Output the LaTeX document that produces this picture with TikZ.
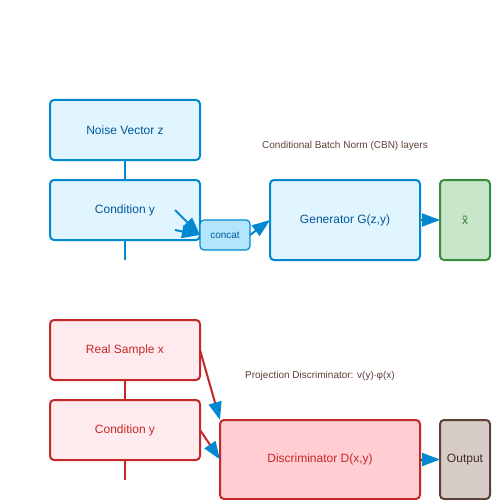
\documentclass[tikz,border=0pt]{standalone}
\usepackage{fontspec}
\setmainfont{Liberation Sans}
\usetikzlibrary{arrows.meta}
\definecolor{bstroke}{HTML}{0288D1}
\definecolor{bfill}{HTML}{E1F5FE}
\definecolor{cfill}{HTML}{B3E5FC}
\definecolor{btext}{HTML}{01579B}
\definecolor{rstroke}{HTML}{C62828}
\definecolor{rfill}{HTML}{FFEBEE}
\definecolor{dfill}{HTML}{FFCDD2}
\definecolor{gstroke}{HTML}{388E3C}
\definecolor{gfill}{HTML}{C8E6C9}
\definecolor{gtext}{HTML}{2E7D32}
\definecolor{brn}{HTML}{5D4037}
\definecolor{ofill}{HTML}{D7CCC8}
\tikzset{
  box/.style={draw, line width=2pt, rounded corners=4pt, inner sep=0pt, outer sep=0pt, anchor=north west, font=\fontsize{12}{14}\selectfont},
  gbox/.style={box, draw=bstroke, fill=bfill, text=btext},
  rbox/.style={box, draw=rstroke, fill=rfill, text=rstroke},
  link/.style={line width=2pt},
  arr/.style={line width=2pt, -{Triangle[length=18pt,width=13pt,color=bstroke,fill=bstroke]}},
  note/.style={text=brn, font=\fontsize{10}{12}\selectfont}
}
\begin{document}
\begin{tikzpicture}[x=1pt,y=-1pt]
\useasboundingbox (0,0) rectangle (500,500);
% generator part
\node[gbox, minimum width=150pt, minimum height=60pt] (noise) at (50,100) {Noise Vector z};
\node[gbox, minimum width=150pt, minimum height=60pt] (cond1) at (50,180) {Condition y};
\node[box, draw=bstroke, fill=cfill, text=btext, line width=1.2pt, minimum width=50pt, minimum height=30pt, font=\fontsize{10}{12}\selectfont] (concat) at (200,220) {concat};
\node[gbox, minimum width=150pt, minimum height=80pt] (gen) at (270,180) {Generator G(z,y)};
\node[box, draw=gstroke, fill=gfill, text=gtext, minimum width=50pt, minimum height=80pt] (xt) at (440,180) {x\symbol{"0303}};
\node[note] (cbn) at (345,146) {Conditional Batch Norm (CBN) layers};
\coordinate (c1end) at (125,260);
\coordinate (a1) at (175,210);
\coordinate (a2) at (175,230);
\draw[link, draw=bstroke] (noise.south) -- (cond1.north);
\draw[link, draw=bstroke] (cond1.south) -- (c1end);
\draw[arr, draw=bstroke] (a1) -- (concat.west);
\draw[arr, draw=bstroke] (a2) -- (concat.west);
\draw[arr, draw=bstroke] (concat.east) -- (gen.west);
\draw[arr, draw=gstroke] (gen.east) -- (xt.west);
% discriminator part
\node[rbox, minimum width=150pt, minimum height=60pt] (real) at (50,320) {Real Sample x};
\node[rbox, minimum width=150pt, minimum height=60pt] (cond2) at (50,400) {Condition y};
\node[box, draw=rstroke, fill=dfill, text=rstroke, minimum width=200pt, minimum height=79pt] (disc) at (220,420) {Discriminator D(x,y)};
\node[box, draw=brn, fill=ofill, text=brn!70!black, minimum width=50pt, minimum height=79pt] (out) at (440,420) {Output};
\node[note] (proj) at (320,376) {Projection Discriminator: v(y)$\cdot$φ(x)};
\coordinate (c2end) at (125,480);
\draw[link, draw=rstroke] (real.south) -- (cond2.north);
\draw[link, draw=rstroke] (cond2.south) -- (c2end);
\draw[arr, draw=rstroke] (real.east) -- (disc.north west);
\draw[arr, draw=rstroke] (cond2.east) -- (disc.west);
\draw[arr, draw=brn] (disc.east) -- (out.west);
\end{tikzpicture}
\end{document}
